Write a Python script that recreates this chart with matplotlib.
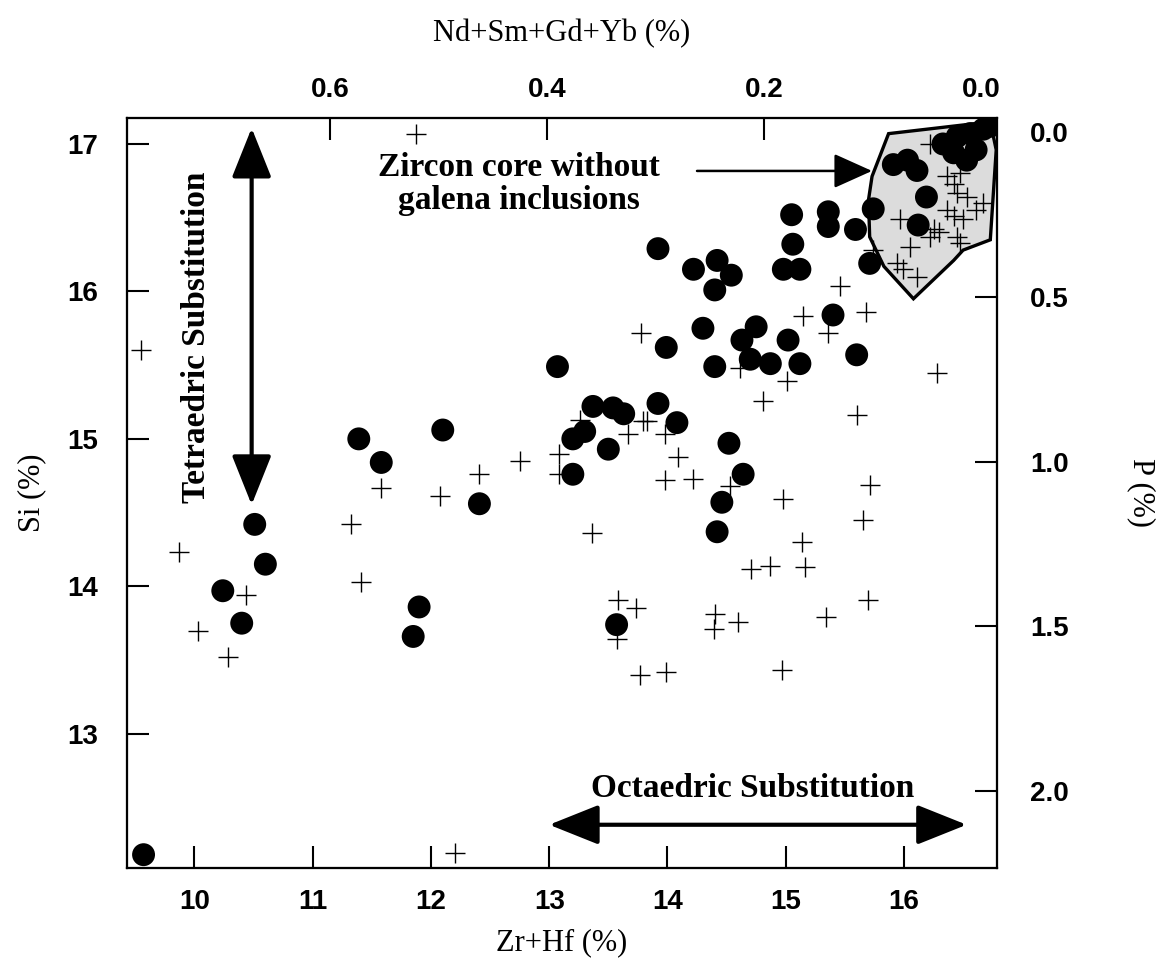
import matplotlib.pyplot as plt
from matplotlib.patches import Polygon

# filled circles (Zr+Hf %, Si %)
circle_zr = [9.57, 10.24, 10.40, 10.51, 10.60, 11.39, 11.58, 11.85, 11.90, 12.10,
             12.41, 13.07, 13.20, 13.30, 13.20, 13.37, 13.50, 13.54, 13.63, 13.57,
             13.92, 14.08, 13.92, 13.99, 14.22, 14.30, 14.40, 14.42, 14.54, 14.40,
             14.63, 14.75, 14.70, 14.87, 15.02, 15.12, 15.40, 15.60, 14.52, 14.64,
             14.46, 14.42, 15.05, 15.36, 15.36, 15.06, 14.98, 15.12, 15.74, 15.59,
             15.71, 15.91, 16.03, 16.11, 16.19, 16.12, 16.33, 16.45, 16.56, 16.67,
             16.73, 16.42, 16.53, 16.61]
circle_si = [12.18, 13.97, 13.75, 14.42, 14.15, 15.00, 14.84, 13.66, 13.86, 15.06,
             14.56, 15.49, 15.00, 15.05, 14.76, 15.22, 14.93, 15.21, 15.17, 13.74,
             15.24, 15.11, 16.29, 15.62, 16.15, 15.75, 16.01, 16.21, 16.11, 15.49,
             15.67, 15.76, 15.54, 15.51, 15.67, 15.51, 15.84, 15.57, 14.97, 14.76,
             14.57, 14.37, 16.52, 16.54, 16.44, 16.32, 16.15, 16.15, 16.56, 16.42,
             16.19, 16.86, 16.89, 16.82, 16.64, 16.45, 17.00, 17.05, 17.07, 17.10,
             17.12, 16.94, 16.89, 16.96]

# crosses (Zr+Hf %, Si %)
cross_zr = [9.55, 9.87, 10.03, 10.28, 10.44, 11.32, 11.41, 11.58, 11.87, 12.08,
            12.20, 12.41, 12.75, 13.08, 13.08, 13.26, 13.36, 13.58, 13.73, 13.57,
            13.77, 13.99, 13.67, 13.79, 13.83, 13.98, 14.09, 13.98, 14.22, 13.78,
            14.40, 14.39, 14.60, 14.53, 14.61, 14.81, 15.01, 14.98, 15.15, 15.36,
            15.46, 15.68, 15.60, 15.71, 15.65, 15.14, 14.71, 14.87, 15.16, 15.70,
            15.34, 14.97, 16.28,
            15.97, 16.05, 15.94, 16.11, 15.99, 16.25, 16.30, 16.45, 16.50, 16.53,
            16.61, 16.67, 16.36, 16.42, 16.47, 16.45, 16.36, 16.42, 16.22, 15.74,
            16.47, 16.22]
cross_si = [15.60, 14.23, 13.70, 13.52, 13.94, 14.42, 14.03, 14.67, 17.07, 14.61,
            12.19, 14.76, 14.85, 14.90, 14.76, 15.13, 14.36, 13.91, 13.85, 13.64,
            13.40, 13.42, 15.03, 15.12, 15.12, 15.03, 14.88, 14.72, 14.73, 15.72,
            13.81, 13.71, 13.76, 14.68, 15.48, 15.26, 15.39, 14.59, 15.83, 15.72,
            16.04, 15.86, 15.16, 14.69, 14.45, 14.30, 14.12, 14.14, 14.13, 13.91,
            13.79, 13.43, 15.45,
            16.49, 16.30, 16.19, 16.10, 16.15, 16.42, 16.40, 16.37, 16.49, 16.64,
            16.55, 16.60, 16.78, 16.73, 16.80, 16.67, 16.55, 16.51, 17.00, 16.28,
            16.33, 16.37]

# outline of the zircon core field
core_zr = [15.87, 16.73, 16.78, 16.73, 16.50, 16.42, 16.08, 15.83, 15.71, 15.70, 15.73]
core_si = [17.07, 17.15, 16.96, 16.35, 16.28, 16.21, 15.95, 16.17, 16.37, 16.62, 16.78]

x_ticks = [10, 11, 12, 13, 14, 15, 16]
y_ticks = [13, 14, 15, 16, 17]
ree_ticks = [0.0, 0.2, 0.4, 0.6]
p_ticks = [0.0, 0.5, 1.0, 1.5, 2.0]

plt.rcParams['font.family'] = ['Liberation Sans', 'DejaVu Sans']
serif = ['Liberation Serif', 'DejaVu Serif']
tick_kw = dict(direction='in', length=16, width=1.5, labelsize=20)

fig = plt.figure(figsize=(11.63, 9.76), dpi=100)
ax = fig.add_axes([0.1092, 0.1107, 0.7481, 0.7684])

ax.add_patch(Polygon(list(zip(core_zr, core_si)), closed=True, facecolor='#dcdcdc',
                     edgecolor='black', linewidth=2.4, zorder=1))
ax.scatter(cross_zr, cross_si, marker='+', s=15 ** 2, linewidths=1, color='black', zorder=3)
ax.scatter(circle_zr, circle_si, marker='o', s=16.5 ** 2, color='black', edgecolors='none', zorder=4)

ax.set_xlim(9.43, 16.787)
ax.set_ylim(12.09, 17.176)
ax.set_xticks(x_ticks)
ax.set_yticks(y_ticks)
ax.tick_params(axis='x', pad=15, **tick_kw)
ax.tick_params(axis='y', pad=21, **tick_kw)
ax.tick_params(top=False, right=False)
for lbl in ax.get_xticklabels() + ax.get_yticklabels():
    lbl.set_fontweight('bold')

ax.set_xlabel('Zr+Hf (%)', family=serif, fontsize=22)
ax.xaxis.set_label_coords(0.5, -0.08)
ax.set_ylabel('Si (%)', family=serif, fontsize=22)
ax.yaxis.set_label_coords(-0.093, 0.5)

# top scale: REE
ax_top = ax.twiny()
ax_top.set_xlim(0.787, -0.0147)
ax_top.set_xticks(ree_ticks)
ax_top.set_xticklabels(['%.1f' % t for t in ree_ticks], fontweight='bold')
ax_top.tick_params(axis='x', pad=11, **tick_kw)
ax_top.set_xlabel('Nd+Sm+Gd+Yb (%)', family=serif, fontsize=22)
ax_top.xaxis.set_label_coords(0.5, 1.103)

# right scale: P
ax_right = ax.twinx()
ax_right.set_ylim(2.235, -0.044)
ax_right.set_yticks(p_ticks)
ax_right.set_yticklabels(['%.1f' % t for t in p_ticks], fontweight='bold')
ax_right.tick_params(axis='y', pad=24, **tick_kw)
ax_right.set_ylabel('P (%)', family=serif, fontsize=22, rotation=270, va='bottom')
ax_right.yaxis.set_label_coords(1.149, 0.5)

for a in (ax, ax_top, ax_right):
    for s in a.spines.values():
        s.set_linewidth(1.5)

# annotations
ax.annotate('', xy=(10.484, 17.108), xytext=(10.484, 14.553),
            arrowprops=dict(arrowstyle='<|-|>,head_length=0.55,head_width=0.22',
                            mutation_scale=56, lw=3, color='black',
                            shrinkA=0, shrinkB=0), zorder=5)
ax.text(10.02, 15.69, 'Tetraedric Substitution', rotation=90, ha='center', va='center',
        family=serif, fontsize=24, fontweight='bold')

ax.annotate('', xy=(13.0, 12.383), xytext=(16.53, 12.383),
            arrowprops=dict(arrowstyle='<|-|>,head_length=0.55,head_width=0.22',
                            mutation_scale=56, lw=3, color='black',
                            shrinkA=0, shrinkB=0), zorder=5)
ax.text(14.72, 12.573, 'Octaedric Substitution', ha='center', va='baseline',
        family=serif, fontsize=24, fontweight='bold')

ax.annotate('', xy=(15.73, 16.817), xytext=(14.25, 16.817),
            arrowprops=dict(arrowstyle='-|>,head_length=0.6,head_width=0.27',
                            mutation_scale=40, lw=1.8, color='black',
                            shrinkA=0, shrinkB=0), zorder=5)
ax.text(12.744, 16.729, 'Zircon core without\ngalena inclusions', ha='center', va='center',
        multialignment='center', linespacing=1.1,
        family=serif, fontsize=24, fontweight='bold')

fig.savefig('out.png', dpi=100)
